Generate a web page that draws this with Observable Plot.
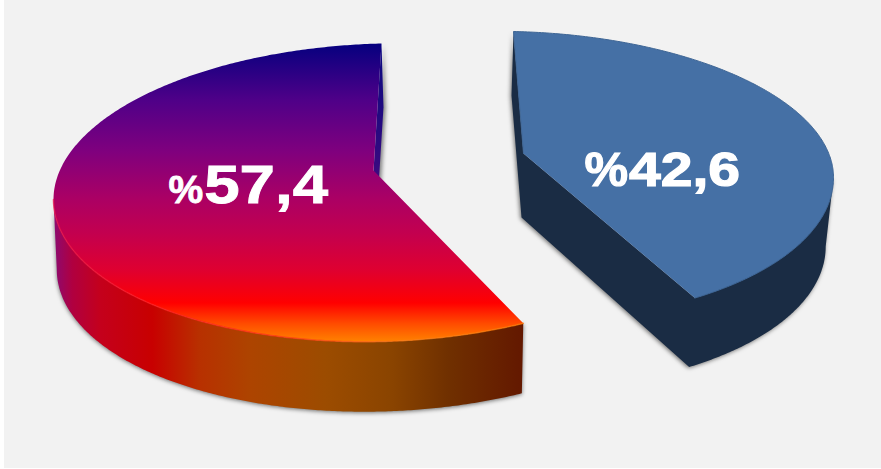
<!DOCTYPE html>
<html>
<head>
<meta charset="utf-8">
<script src="https://cdn.jsdelivr.net/npm/d3@7"></script>
<script src="https://cdn.jsdelivr.net/npm/@observablehq/plot@0.6"></script>
<style>
  html, body { margin: 0; padding: 0; background: #fff; }
  svg { display: block; }
</style>
</head>
<body>
<div id="chart"></div>
<script>
// Shares of the two slices, in percent.
const sliceNames = ["A", "B"];
const shares = [57.4, 42.6];

// Opening direction of each slice: -1 sweeps counter-clockwise from twelve o'clock.
const directions = [-1, 1];

// Oblique view of each exploded slice.
const views = [
  { cx: 381, cy: 191, rx: 328, ryFar: 148, ryNear: 150, skew: -8, sweep: 0.995,
    apex: [373, 170], depth: [0, 70], taper: 0.99, innerDepth: [2, 64], label: [168, 202],
    pctSize: 39, numSize: 53, numWidth: 124, gap: 1, weight: 0.8 },
  { cx: 513, cy: 170, rx: 320, ryFar: 139, ryNear: 150, skew: 7, sweep: 0.9486,
    apex: [523, 153], depth: [-3, 69], taper: 0.985, innerDepth: [-2, 64], label: [584, 185],
    pctSize: 49, numSize: 48, numWidth: 111, gap: 1, weight: 1.2 }
];

const rad = Math.PI / 180;

function rimPoint(v, angle) {
  const s = Math.sin(angle * rad), c = Math.cos(angle * rad);
  return { x: v.cx + v.rx * s, y: v.cy - (c > 0 ? v.ryFar : v.ryNear) * c + v.skew * s };
}

function lowered(v, p) {
  return { x: v.cx + (p.x - v.cx) * v.taper + v.depth[0], y: p.y + v.depth[1] };
}

function rimArc(v, from, to) {
  const steps = Math.max(2, Math.ceil(Math.abs(to - from) * 2));
  return d3.range(steps + 1).map((i) => rimPoint(v, from + (to - from) * i / steps));
}

const slices = shares.map((share, i) => {
  const v = views[i];
  const end = directions[i] * share * 3.6 * v.sweep;
  const apex = { x: v.apex[0], y: v.apex[1] };
  const rim = rimArc(v, 0, end);
  const start = rim[0];
  const tip = rim[rim.length - 1];
  // Only the part of the rim facing the viewer shows an outer wall.
  const front = rimArc(v, directions[i] * 90, end);
  const startLow = { x: start.x + v.innerDepth[0], y: start.y + v.innerDepth[1] };
  const apexLow = { x: apex.x + v.innerDepth[0], y: apex.y + v.innerDepth[1] };
  return {
    top: [apex, ...rim],
    rimFront: front,
    outer: [...front, ...front.map((p) => lowered(v, p)).reverse()],
    inner: [start, startLow, apexLow, apex],
    // Every visible side of the slice as one outline, for a flat-coloured body.
    body: [start, startLow, apexLow, ...front.map((p) => lowered(v, p)).reverse(), ...front.slice(0, 1), tip, apex]
  };
});

const labels = shares.map((share, i) => ({
  name: sliceNames[i],
  text: "%" + share.toFixed(1).replace(".", ","),
  x: views[i].label[0],
  y: views[i].label[1]
}));

// Gradient stops for the coloured slice.
const topStops = [
  [0, "#05007f"], [0.19, "#4f0088"], [0.36, "#7f007e"], [0.52, "#ab0064"],
  [0.64, "#c4004e"], [0.76, "#df0030"], [0.87, "#ff0000"], [0.94, "#ff4c00"], [1, "#ff8200"]
];
const wallStops = [
  [0, "#8c0a72"], [0.04, "#b00040"], [0.1, "#c4001c"], [0.21, "#c80000"], [0.31, "#b83000"],
  [0.42, "#ad4400"], [0.58, "#9c4c00"], [0.72, "#8a4400"], [0.84, "#703000"], [1, "#631800"]
];
const rimStops = [[0, "#e8104c"], [0.2, "#ff1a20"], [0.5, "#ff3010"], [0.75, "#ff7a10"], [1, "#ff7a00"]];
const sliverStops = [[0, "#0a0a80"], [0.5, "#2a0a80"], [1, "#5a0a80"]];

function gradients() {
  const defs = d3.create("svg:defs");
  const add = (id, stops, vertical) => {
    const g = defs.append("linearGradient").attr("id", id)
      .attr("x1", 0).attr("y1", 0).attr("x2", vertical ? 0 : 1).attr("y2", vertical ? 1 : 0);
    stops.forEach(([o, c]) => g.append("stop").attr("offset", o).attr("stop-color", c));
  };
  add("slice-top", topStops, true);
  add("slice-wall", wallStops, false);
  add("slice-rim", rimStops, false);
  add("slice-sliver", sliverStops, true);
  return defs.node();
}

const wallShadow = "drop-shadow(0px 1px 2px rgba(0,0,0,0.55))";
const area = (data, fill, extra = {}) =>
  Plot.line(data, { x: "x", y: "y", fill, stroke: "none", ...extra });

const plot = Plot.plot({
  width: 881,
  height: 469,
  margin: 0,
  x: { domain: [0, 881], range: [0, 881], axis: null },
  y: { domain: [0, 469], range: [0, 469], axis: null },
  marks: [
    gradients,
    Plot.rect([{}], { x1: () => 4, x2: () => 881, y1: () => 0, y2: () => 468, fill: "#f2f2f2" }),

    // Coloured slice
    area(slices[0].inner, "url(#slice-sliver)", { imageFilter: "drop-shadow(2px 1px 2px rgba(0,0,0,0.5))" }),
    area(slices[0].outer, "url(#slice-wall)", { imageFilter: wallShadow }),
    area(slices[0].top, "url(#slice-top)"),
    Plot.line(slices[0].rimFront, { x: "x", y: "y", stroke: "url(#slice-rim)", strokeWidth: 1.5, strokeOpacity: 0.7 }),

    // Blue slice
    area(slices[1].body, "#1a2c44", { imageFilter: "drop-shadow(-1px 1px 2px rgba(0,0,0,0.55))" }),
    area(slices[1].top, "#4570a5", { stroke: "#3f6695", strokeWidth: 1 }),

    Plot.text(labels, {
      x: "x", y: "y", text: "text",
      textAnchor: "start", lineAnchor: "bottom",
      fill: "white", fontWeight: "bold", fontFamily: "Liberation Sans, Arial, sans-serif"
    })
  ]
});

// Percent sign and digits are set at different sizes, with the digits widened.
plot.querySelectorAll("text").forEach((node, i) => {
  const full = node.textContent;
  const v = views[i];
  const sel = d3.select(node);
  node.textContent = "";
  sel.attr("transform", null).attr("x", labels[i].x).attr("y", labels[i].y).attr("dy", null)
    .attr("stroke", "white").attr("stroke-width", v.weight).attr("paint-order", "stroke");
  sel.append("tspan").attr("font-size", v.pctSize).text(full[0]);
  sel.append("tspan").attr("font-size", v.numSize).attr("dx", v.gap)
    .attr("textLength", v.numWidth).attr("lengthAdjust", "spacingAndGlyphs").text(full.slice(1));
});

document.getElementById("chart").append(plot);
</script>
</body>
</html>
